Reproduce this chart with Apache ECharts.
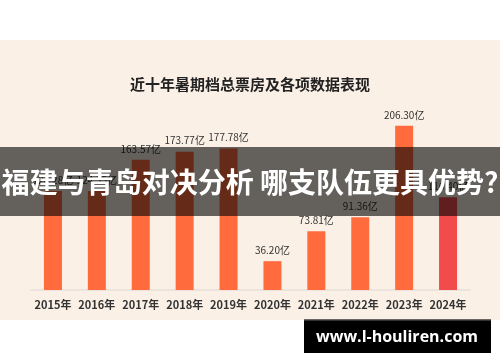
<!DOCTYPE html>
<html>
<head>
<meta charset="utf-8">
<script src="https://cdn.jsdelivr.net/npm/echarts@6/dist/echarts.min.js"></script>
<style>
html,body{margin:0;padding:0;background:#ffffff;}
#c{width:500px;height:362px;}
</style>
</head>
<body>
<div id="c"></div>
<script>
const categories = ['2015年','2016年','2017年','2018年','2019年','2020年','2021年','2022年','2023年','2024年'];
const boxOffice = [124.28, 124.35, 163.57, 173.77, 177.78, 36.20, 73.81, 91.36, 206.30, 116.40];
const titleText = '近十年暑期档总票房及各项数据表现';
const bannerText = '福建与青岛对决分析 哪支队伍更具优势?';
const watermarkText = 'www.l-houliren.com';

const chart = echarts.init(document.getElementById('c'), null, {renderer:'canvas'});
const font = '"Noto Sans CJK SC","Noto Sans",sans-serif';
chart.setOption({
  backgroundColor: '#ffffff',
  animation: false,
  title: {
    text: titleText, left: 'center', top: 72,
    textStyle: {fontSize: 15, fontWeight: 'bold', color: '#222222', fontFamily: font}
  },
  grid: {left: 31, right: 30, top: 91, bottom: 72},
  xAxis: {
    type: 'category', data: categories,
    axisLine: {lineStyle: {color: '#ece4dc', width: 2}},
    axisTick: {show: false},
    axisLabel: {interval: 0, color: '#333333', fontSize: 11, fontWeight: 'bold', margin: 9, fontFamily: font}
  },
  yAxis: {type: 'value', min: 0, max: 250, show: false, splitLine: {show: false}},
  series: [{
    type: 'bar', barWidth: 18, z: 5,
    data: boxOffice.map((v, i) => ({
      value: v,
      itemStyle: {color: i === categories.length - 1 ? '#f24b4c' : '#ff6b3d'}
    })),
    label: {
      show: true, position: 'top', distance: 6,
      formatter: p => p.value.toFixed(2) + '亿',
      color: '#333333', fontSize: 10, fontFamily: font
    }
  }],
  graphic: [
    {type: 'rect', z: -10, silent: true, shape: {x: 0, y: 40, width: 500, height: 280}, style: {fill: '#faf0e6'}},
    {type: 'rect', z: 100, silent: true, shape: {x: 0, y: 147, width: 500, height: 69}, style: {fill: 'rgba(0,0,0,0.6)'}},
    {type: 'text', z: 101, silent: true, x: 250, y: 182,
      style: {text: bannerText, fill: '#ffffff', font: 'bold 28px ' + font, align: 'center', verticalAlign: 'middle'}},
    {type: 'rect', z: 100, silent: true, shape: {x: 304, y: 319, width: 187, height: 34}, style: {fill: '#000000'}},
    {type: 'rect', z: 101, silent: true, shape: {x: 304, y: 319, width: 187, height: 1.5}, style: {fill: '#6a6560'}},
    {type: 'text', z: 101, silent: true, x: 397, y: 337,
      style: {text: watermarkText, fill: '#ffffff', font: 'bold 16px "Open Sans","DejaVu Sans",sans-serif', align: 'center', verticalAlign: 'middle'}}
  ]
});
</script>
</body>
</html>
